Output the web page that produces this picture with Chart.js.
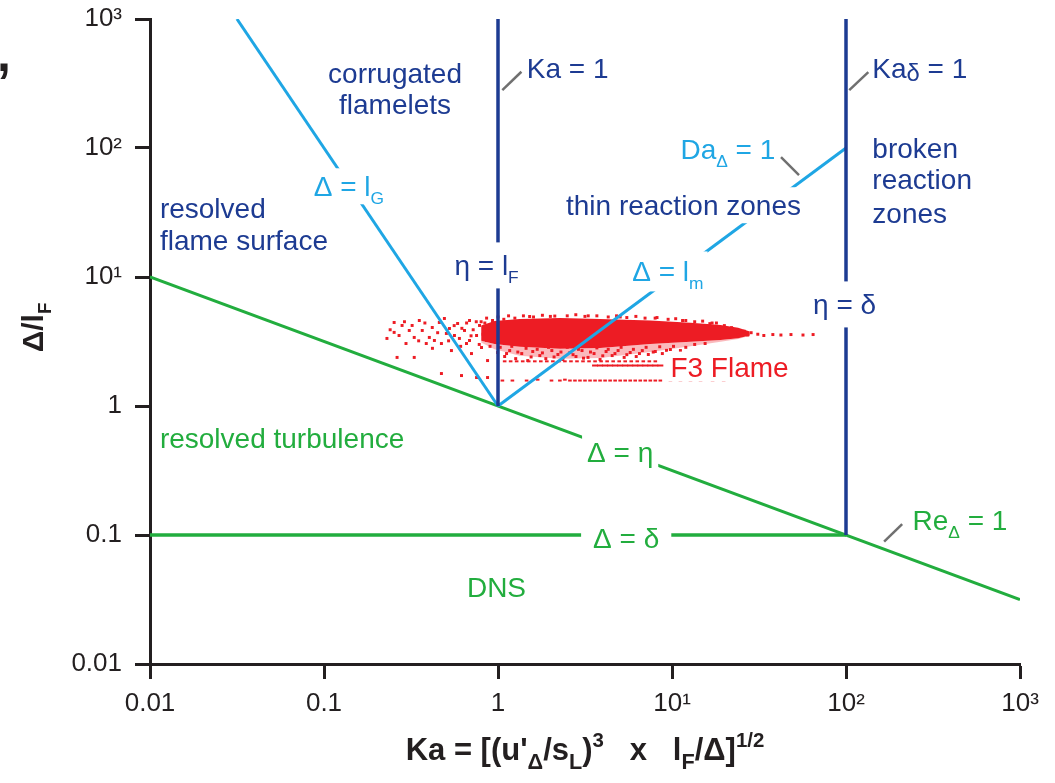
<!DOCTYPE html>
<html>
<head>
<meta charset="utf-8">
<script src="https://cdn.jsdelivr.net/npm/chart.js@4.4.0/dist/chart.umd.min.js"></script>
<style>
  html, body { margin: 0; background: #fff; }
  #wrap { position: relative; width: 1055px; height: 783px; }
  #stray { position: absolute; left: -3px; top: 25px; font: bold 50px "Liberation Sans", Arial, sans-serif; color: #231f20; }
</style>
</head>
<body>
<div id="wrap">
  <span id="stray">,</span>
  <canvas id="regime" width="1055" height="783"></canvas>
</div>
<script>
// ticks
const tickValues = [0.01, 0.1, 1, 10, 100, 1000];
const xTickLabels = ['0.01', '0.1', '1', '10¹', '10²', '10³'];
const yTickLabels = ['0.01', '0.1', '1', '10¹', '10²', '10³'];

// regime boundaries, [Ka, Δ/lF]
const lineLG = [[0.0316, 1000], [1, 1]];
const lineLm = [[1, 1], [100, 100]];
const lineKa1 = [[1, 1], [1, 1000]];
const lineKaDelta = [[100, 0.1], [100, 1000]];
const lineEta = [[0.01, 10], [1000, 0.0316]];
const lineDelta = [[0.01, 0.1], [100, 0.1]];

// little grey pointers next to labels
const leaderKa1 = [[1.059, 281], [1.363, 390]];
const leaderKaDelta = [[104.4, 281], [134.4, 388]];
const leaderDa = [[42.3, 84.8], [53.7, 61.5]];
const leaderRe = [[165.6, 0.089], [210.3, 0.1215]];

// F3 flame cloud: dense core edges
const coreUpper = [[0.80, 4.2], [0.956, 4.55], [1.333, 4.72], [2.268, 4.80], [3.86, 4.72], [7.50, 4.6], [12.77, 4.42], [19.03, 4.25], [24.0, 4.05], [28.0, 3.78]];
const coreLower = [[0.80, 3.2], [0.956, 3.02], [1.333, 2.88], [2.268, 2.78], [3.86, 2.82], [7.50, 3.02], [12.77, 3.15], [19.03, 3.25], [24.0, 3.35], [28.0, 3.52]];
const fringeLower = [[0.80, 3.1], [0.956, 2.75], [1.333, 2.45], [2.268, 2.32], [3.86, 2.36], [7.50, 2.62], [12.77, 2.9], [19.03, 3.15], [24.0, 3.3], [28.0, 3.5]];

// F3 flame cloud: loose points
const leftDots = [[0.253, 4.44], [0.281, 4.21], [0.253, 3.72], [0.230, 3.34], [0.270, 3.52], [0.296, 3.05], [0.321, 4.21], [0.353, 4.60],
  [0.330, 3.40], [0.367, 3.85], [0.387, 3.05], [0.403, 3.40], [0.419, 4.06], [0.460, 4.44], [0.473, 3.05], [0.505, 3.65], [0.526, 3.99],
  [0.540, 2.69], [0.586, 4.36], [0.600, 3.34], [0.642, 3.85], [0.659, 3.05], [0.686, 4.60], [0.704, 2.55], [0.753, 3.52], [0.783, 4.21],
  [0.804, 2.84], [0.859, 3.22], [0.871, 2.25], [0.894, 3.85], [0.263, 2.38], [0.330, 2.38], [0.473, 1.785], [0.617, 1.722], [0.753, 1.662],
  [0.871, 1.662], [0.309, 3.85], [0.431, 3.22], [0.562, 3.52], [0.492, 4.77], [0.686, 3.22], [0.62, 4.0], [0.72, 3.9], [0.56, 4.2],
  [0.45, 3.7], [0.38, 4.4], [0.66, 4.4], [0.75, 4.5], [0.82, 3.6], [0.70, 3.5], [0.78, 3.0], [0.84, 4.4], [0.90, 2.9], [0.93, 4.6],
  [0.61, 2.9], [0.52, 3.2], [0.42, 2.8], [0.35, 3.2], [0.29, 4.5], [0.24, 3.9]];
const underDots = [[0.995, 2.60], [1.092, 2.42], [1.167, 2.69], [1.264, 2.33], [1.369, 2.55], [1.482, 2.25], [1.584, 2.645], [1.739, 2.46],
  [1.883, 2.33], [2.039, 2.69], [2.209, 2.507], [2.360, 2.292], [2.591, 2.598], [2.806, 2.418], [3.039, 2.69], [3.291, 2.38], [3.565, 2.55],
  [3.86, 2.292], [4.18, 2.645], [4.53, 2.46], [4.90, 2.69], [5.31, 2.38], [5.75, 2.598], [6.23, 2.418], [6.75, 2.69], [7.31, 2.507],
  [8.02, 2.645], [8.80, 2.55], [9.79, 2.74], [11.18, 2.69]];
const underDots2 = [[1.03, 2.85], [1.12, 2.55], [1.2, 2.9], [1.3, 2.62], [1.45, 2.8], [1.55, 2.4], [1.68, 2.75], [1.8, 2.58], [1.95, 2.85],
  [2.1, 2.4], [2.3, 2.62], [2.5, 2.85], [2.7, 2.5], [2.9, 2.75], [3.1, 2.35], [3.4, 2.62], [3.7, 2.82], [4.0, 2.45], [4.3, 2.75], [4.7, 2.55],
  [5.1, 2.85], [5.5, 2.5], [6.0, 2.75], [6.5, 2.55], [7.1, 2.85], [7.8, 2.62], [8.5, 2.88], [9.3, 2.7], [10.2, 2.9], [12.0, 2.85],
  [13.5, 3.0], [15.5, 3.05]];
const topDots = [[0.80, 4.5], [0.86, 4.8], [0.93, 4.4], [1.0, 4.9], [1.08, 4.7], [1.15, 5.0], [1.25, 4.8], [1.4, 5.0], [1.52, 4.94],
  [1.6, 4.9], [1.8, 5.05], [2.0, 4.95], [2.12, 4.98], [2.5, 5.0], [2.8, 5.1], [3.16, 4.95], [3.3, 5.0], [3.7, 5.0], [4.3, 4.9], [4.8, 5.0],
  [5.04, 4.90], [5.5, 4.85], [6.2, 4.95], [7.0, 4.8], [8.0, 4.8], [8.2, 4.85], [9.5, 4.7], [10.5, 4.75], [11.5, 4.6], [12.0, 4.6],
  [13.5, 4.5], [15, 4.55], [16.5, 4.35], [17.0, 4.4], [18, 4.4], [20, 4.2], [22, 4.05], [26.0, 3.8], [28.5, 3.7]];
const tailDots = [[23.86, 3.58], [27.25, 3.55], [31.12, 3.6], [33.71, 3.52], [37.98, 3.58], [42.26, 3.55], [48.27, 3.58], [56.6, 3.55], [64.7, 3.58]];
const rowMid = [[1.092, 2.22], [1.182, 2.22], [1.280, 2.22], [1.387, 2.22], [1.502, 2.22], [1.627, 2.22], [1.762, 2.22], [1.908, 2.22],
  [2.067, 2.22], [2.239, 2.22], [2.424, 2.22], [2.626, 2.22], [2.844, 2.22], [3.080, 2.22], [3.336, 2.22], [3.613, 2.22], [3.913, 2.22],
  [4.238, 2.22], [4.590, 2.22], [4.971, 2.22], [5.383, 2.22], [5.831, 2.22], [6.315, 2.22], [6.839, 2.22], [7.407, 2.22], [8.018, 2.22]];
const rowDash = [[3.612, 2.06], [3.860, 2.06], [4.125, 2.06], [4.409, 2.06], [4.712, 2.06], [5.036, 2.06], [5.382, 2.06], [5.751, 2.06],
  [6.147, 2.06], [6.569, 2.06], [7.020, 2.06], [7.503, 2.06], [8.018, 2.06], [8.569, 2.06]];
const rowLow = [[1.06, 1.575], [1.21, 1.575], [1.46, 1.575], [1.69, 1.60], [2.03, 1.575], [2.268, 1.575], [2.424, 1.60], [2.591, 1.575],
  [2.769, 1.575], [2.959, 1.575], [3.162, 1.575], [3.380, 1.575], [3.612, 1.575], [3.860, 1.575], [4.125, 1.575], [4.409, 1.575],
  [4.712, 1.575], [5.036, 1.575], [5.382, 1.575], [5.751, 1.575], [6.147, 1.575], [6.569, 1.575], [7.020, 1.575], [7.503, 1.575],
  [8.018, 1.575], [8.569, 1.575], [9.79, 1.575], [11.18, 1.575], [12.77, 1.575], [14.59, 1.575], [17.11, 1.575], [19.81, 1.575]];

const LB = '#1fa6e4', DB = '#1d3b92', GR = '#22ad3e', RD = '#ed1c24', GY = '#707070', BK = '#231f20';
const FONT = '"Liberation Sans", Arial, Helvetica, sans-serif';

// region and line labels (positions in data units)
const labels = [
  { parts: [['corrugated']], x: 0.256, y: 380, color: DB, align: 'center' },
  { parts: [['flamelets']], x: 0.256, y: 218, color: DB, align: 'center' },
  { parts: [['resolved']], x: 0.0114, y: 34.1, color: DB },
  { parts: [['flame surface']], x: 0.0114, y: 19.4, color: DB },
  { parts: [['Δ = l'], ['G', 'sub']], x: 0.0873, y: 50.5, color: LB, clear: [4, 4] },
  { parts: [['Ka = 1']], x: 1.463, y: 416, color: DB },
  { parts: [['Ka'], ['δ', 'low'], [' = 1']], x: 141.7, y: 416, color: DB },
  { parts: [['broken']], x: 141.7, y: 101, color: DB },
  { parts: [['reaction']], x: 141.7, y: 57.5, color: DB },
  { parts: [['zones']], x: 141.7, y: 31.5, color: DB },
  { parts: [['Da'], ['Δ', 'sub'], [' = 1']], x: 11.18, y: 97.9, color: LB },
  { parts: [['thin reaction zones']], x: 11.64, y: 36, color: DB, align: 'center', clear: [4, 4] },
  { parts: [['η = l'], ['F', 'sub']], x: 0.5617, y: 12.3, color: DB, clear: [4, 9] },
  { parts: [['Δ = l'], ['m', 'sub']], x: 5.91, y: 11.05, color: LB, clear: [4, 6] },
  { parts: [['η = δ']], x: 64.7, y: 6.13, color: DB, clear: [4, 9] },
  { parts: [['F3 Flame']], x: 9.79, y: 2.02, color: RD, clear: [3, 1] },
  { parts: [['resolved turbulence']], x: 0.0114, y: 0.568, color: GR },
  { parts: [['Δ = η']], x: 3.25, y: 0.4426, color: GR, clear: [5, 3] },
  { parts: [['Δ = δ']], x: 3.52, y: 0.0951, color: GR, clear: [12, 3] },
  { parts: [['Re'], ['Δ', 'sub'], [' = 1']], x: 241, y: 0.1312, color: GR },
  { parts: [['DNS']], x: 0.98, y: 0.0396, color: GR, align: 'center' }
];

const xTitle = [['Ka = [(u\''], ['Δ', 'tsub'], ['/s'], ['L', 'tsub'], [')'], ['3', 'tsup'], ['   x   l'], ['F', 'tsub'], ['/Δ]'], ['1/2', 'tsup']];
const yTitle = [['Δ/l'], ['F', 'sub']];

const MODES = { sub: [0.62, 0.28], sup: [0.62, -0.45], low: [0.85, 0.1], tsub: [0.7, 0.3], tsup: [0.66, -0.42] };

function drawRich(ctx, parts, x, y, size, color, align, weight, clear) {
  const widths = parts.map(p => {
    const m = MODES[p[1]];
    ctx.font = `${weight} ${m ? size * m[0] : size}px ${FONT}`;
    return ctx.measureText(p[0]).width;
  });
  const total = widths.reduce((a, b) => a + b, 0);
  let x0 = align === 'center' ? x - total / 2 : x;
  if (clear) {
    ctx.fillStyle = '#fff';
    ctx.fillRect(x0 - clear[0], y - size * 0.5 - clear[1], total + 2 * clear[0], size + 2 * clear[1]);
  }
  ctx.fillStyle = color;
  ctx.textAlign = 'left';
  ctx.textBaseline = 'alphabetic';
  const base = y + size * 0.36;
  parts.forEach((p, i) => {
    const m = MODES[p[1]];
    ctx.font = `${weight} ${m ? size * m[0] : size}px ${FONT}`;
    ctx.fillText(p[0], x0, base + (m ? size * m[1] : 0));
    x0 += widths[i];
  });
}

const labelPlugin = {
  id: 'regimeLabels',
  afterDatasetsDraw(chart) {
    const { ctx, scales } = chart;
    ctx.save();
    labels.forEach(l => {
      drawRich(ctx, l.parts, scales.x.getPixelForValue(l.x), scales.y.getPixelForValue(l.y),
        28, l.color, l.align || 'left', 'normal', l.clear);
    });
    ctx.restore();
  },
  afterDraw(chart) {
    const { ctx, chartArea } = chart;
    ctx.save();
    drawRich(ctx, xTitle, (chartArea.left + chartArea.right) / 2, 749, 31, BK, 'center', 'bold');
    ctx.translate(32, (chartArea.top + chartArea.bottom) / 2 - 14);
    ctx.rotate(-Math.PI / 2);
    drawRich(ctx, yTitle, 0, 0, 30, BK, 'center', 'bold');
    ctx.restore();
  }
};

const pts = arr => arr.map(([x, y]) => ({ x, y }));
const seg = (arr, color, width) => ({
  data: pts(arr), showLine: true, borderColor: color, borderWidth: width,
  pointRadius: 0, fill: false, tension: 0
});
const dots = arr => ({
  data: pts(arr), showLine: false, pointStyle: 'rect', pointRadius: 2.1,
  backgroundColor: RD, borderWidth: 0
});
const dashes = (arr, r) => ({
  data: pts(arr), showLine: false, pointStyle: 'line', pointRadius: r,
  borderColor: RD, borderWidth: 2
});

const axis = (labelsArr, side) => ({
  type: 'logarithmic',
  position: side,
  min: 0.01,
  max: 1000,
  afterBuildTicks: s => { s.ticks = tickValues.map(v => ({ value: v })); },
  afterFit: s => { if (side === 'left') s.width = 150; else s.height = 119; },
  grid: { drawOnChartArea: false, drawTicks: true, tickLength: 15, tickWidth: 3, tickColor: BK },
  border: { display: true, color: BK, width: 3 },
  ticks: {
    autoSkip: false, maxRotation: 0, color: BK, padding: side === 'left' ? 13 : 9,
    font: side === 'left' ? { family: FONT, size: 26, lineHeight: 0.4 } : { family: FONT, size: 26 },
    callback: (v, i) => labelsArr[i]
  }
});

new Chart(document.getElementById('regime'), {
  type: 'scatter',
  data: {
    datasets: [
      seg(leaderKa1, GY, 2.5), seg(leaderKaDelta, GY, 2.5), seg(leaderDa, GY, 2.5), seg(leaderRe, GY, 2.5),
      seg(lineKa1, DB, 3.5), seg(lineKaDelta, DB, 3.5),
      seg(lineLG, LB, 3), seg(lineLm, LB, 3),
      seg(lineEta, GR, 3), seg(lineDelta, GR, 3.5),
      dashes(rowDash, 3), dashes(rowMid, 1.8), dashes(rowLow, 1.8),
      dots(tailDots), dots(topDots), dots(underDots), dots(underDots2), dots(leftDots),
      { data: pts(coreUpper), showLine: true, borderColor: 'rgba(0,0,0,0)', pointRadius: 0, fill: '+1', backgroundColor: RD },
      { data: pts(coreLower), showLine: true, borderColor: 'rgba(0,0,0,0)', pointRadius: 0, fill: '+1', backgroundColor: 'rgba(237,28,36,0.3)' },
      { data: pts(fringeLower), showLine: true, borderColor: 'rgba(0,0,0,0)', pointRadius: 0, fill: false }
    ]
  },
  options: {
    responsive: false,
    animation: false,
    devicePixelRatio: 1,
    layout: { padding: { top: 19, right: 35, left: 0, bottom: 0 } },
    plugins: { legend: { display: false }, tooltip: { enabled: false } },
    scales: {
      x: axis(xTickLabels, 'bottom'),
      y: axis(yTickLabels, 'left')
    }
  },
  plugins: [labelPlugin]
});
</script>
</body>
</html>
